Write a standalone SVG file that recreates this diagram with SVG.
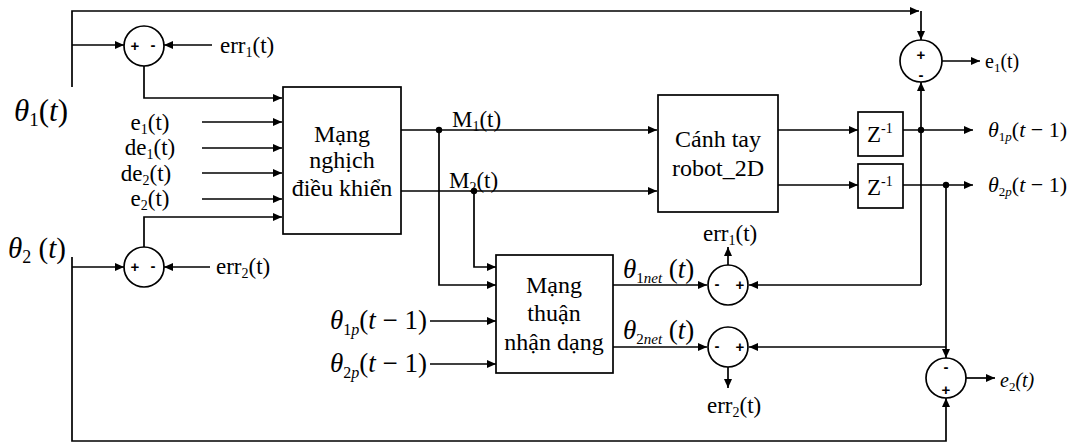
<svg xmlns="http://www.w3.org/2000/svg" width="1082" height="443" viewBox="0 0 1082 443" font-family="'Liberation Serif', 'Times New Roman', serif">
<defs>
<marker id="ah" markerUnits="userSpaceOnUse" markerWidth="9" markerHeight="8" refX="9" refY="4" orient="auto">
<path d="M0,0 L9,4 L0,8 z" fill="#000"/>
</marker>
<style>
text{font-family:'Liberation Serif','Times New Roman',serif;fill:#000}
.lab{font-size:23px}
.big{font-size:24px}
.sm{font-size:20px}
.it{font-style:italic}
.sg{font-family:'Liberation Sans',Arial,sans-serif;font-size:15px;font-weight:bold}
.box{fill:#fff;stroke:#000;stroke-width:1.7}
.sum{fill:#fff;stroke:#000;stroke-width:1.7}
.ln{fill:none;stroke:#000;stroke-width:1.7;marker-end:url(#ah)}
</style>
</defs>
<rect width="1082" height="443" fill="#fff"/>
<g id="connectors">
<path class="ln" d="M72,87 V11 H919"/>
<path class="ln" d="M921,11 V40"/>
<path class="ln" d="M72,45 H124"/>
<path class="ln" d="M212,45 H164"/>
<path class="ln" d="M144,66 V98 H282"/>
<path class="ln" d="M202,122 H282"/>
<path class="ln" d="M202,148 H282"/>
<path class="ln" d="M202,173 H282"/>
<path class="ln" d="M202,199 H282"/>
<path class="ln" d="M144,247 V217 H282"/>
<path class="ln" d="M72,257 V441 H946 V398"/>
<path class="ln" d="M72,267 H124"/>
<path class="ln" d="M210,267 H164"/>
<path class="ln" d="M401,130 H657"/>
<path class="ln" d="M401,191 H657"/>
<path class="ln" d="M439,130 V285 H496"/>
<path class="ln" d="M474,191 V267 H496"/>
<path class="ln" d="M430,321 H496"/>
<path class="ln" d="M430,364 H496"/>
<path class="ln" d="M613,285 H707"/>
<path class="ln" d="M613,347 H707"/>
<path class="ln" d="M728,265 V247"/>
<path class="ln" d="M728,367 V388"/>
<path class="ln" d="M778,130 H858"/>
<path class="ln" d="M778,185 H858"/>
<path class="ln" d="M903,130 H973"/>
<path class="ln" d="M903,185 H973"/>
<path class="ln" d="M921,285 V82"/>
<path class="ln" d="M921,285 H749"/>
<path class="ln" d="M946,185 V358"/>
<path class="ln" d="M946,347 H749"/>
<path class="ln" d="M942,61 H980"/>
<path class="ln" d="M966,378 H995"/>
<circle cx="439" cy="130" r="3.2"/>
<circle cx="474" cy="191" r="3.2"/>
<circle cx="921" cy="130" r="3.2"/>
<circle cx="946" cy="185" r="3.2"/>
</g>
<g id="inputs">
<text x="14" y="121" style="font-size:31px"><tspan class="it">θ</tspan><tspan dy="5" style="font-size:19px">1</tspan><tspan dy="-5">(</tspan><tspan class="it">t</tspan>)</text>
<text x="8" y="258" style="font-size:29px"><tspan class="it">θ</tspan><tspan dy="5" style="font-size:18px">2</tspan><tspan dy="-5"> (</tspan><tspan class="it">t</tspan>)</text>
<text class="lab" x="150" y="130" text-anchor="middle">e<tspan dy="4" style="font-size:14px">1</tspan><tspan dy="-4">(t)</tspan></text>
<text class="lab" x="150" y="155" text-anchor="middle">de<tspan dy="4" style="font-size:14px">1</tspan><tspan dy="-4">(t)</tspan></text>
<text class="lab" x="146" y="181" text-anchor="middle">de<tspan dy="4" style="font-size:14px">2</tspan><tspan dy="-4">(t)</tspan></text>
<text class="lab" x="150" y="206" text-anchor="middle">e<tspan dy="4" style="font-size:14px">2</tspan><tspan dy="-4">(t)</tspan></text>
<text class="lab" x="220" y="53">err<tspan dy="4" style="font-size:14px">1</tspan><tspan dy="-4">(t)</tspan></text>
<text class="lab" x="216" y="274">err<tspan dy="4" style="font-size:14px">2</tspan><tspan dy="-4">(t)</tspan></text>
<text x="330" y="329" style="font-size:27px"><tspan class="it">θ</tspan><tspan dy="6" style="font-size:16px">1</tspan><tspan class="it" style="font-size:16px">p</tspan><tspan dy="-6">(</tspan><tspan class="it">t</tspan> − 1)</text>
<text x="330" y="372" style="font-size:27px"><tspan class="it">θ</tspan><tspan dy="6" style="font-size:16px">2</tspan><tspan class="it" style="font-size:16px">p</tspan><tspan dy="-6">(</tspan><tspan class="it">t</tspan> − 1)</text>
</g>
<g id="sum_err1">
<circle class="sum" cx="144" cy="46" r="20"/>
<text class="sg" x="135" y="51" text-anchor="middle">+</text>
<text class="sg" x="153" y="50" text-anchor="middle">-</text>
</g>
<g id="sum_err2">
<circle class="sum" cx="144" cy="267" r="20"/>
<text class="sg" x="135" y="272" text-anchor="middle">+</text>
<text class="sg" x="153" y="271" text-anchor="middle">-</text>
</g>
<g id="inverse_net">
<rect class="box" x="283" y="87" width="118" height="147"/>
<text class="big" x="342" y="142" text-anchor="middle">Mạng</text>
<text class="big" x="342" y="168" text-anchor="middle">nghịch</text>
<text class="big" x="342" y="196" text-anchor="middle">điều khiển</text>
</g>
<g id="m_labels">
<text class="lab" x="452" y="127">M<tspan dy="4" style="font-size:14px">1</tspan><tspan dy="-4">(t)</tspan></text>
<text class="lab" x="449" y="188">M<tspan dy="4" style="font-size:14px">2</tspan><tspan dy="-4">(t)</tspan></text>
</g>
<g id="robot">
<rect class="box" x="658" y="95" width="120" height="117"/>
<text class="big" x="718" y="147" text-anchor="middle">Cánh tay</text>
<text class="big" x="718" y="176" text-anchor="middle">robot_2D</text>
</g>
<g id="delay1">
<rect class="box" x="858" y="112" width="45" height="44"/>
<text class="lab" x="867" y="142">Z<tspan dy="-9" style="font-size:14px">-1</tspan></text>
</g>
<g id="delay2">
<rect class="box" x="858" y="164" width="45" height="44"/>
<text class="lab" x="867" y="195">Z<tspan dy="-9" style="font-size:14px">-1</tspan></text>
</g>
<g id="forward_net">
<rect class="box" x="496" y="255" width="117" height="118"/>
<text class="big" x="554" y="293" text-anchor="middle">Mạng</text>
<text class="big" x="554" y="321" text-anchor="middle">thuận</text>
<text class="big" x="554" y="350" text-anchor="middle">nhận dạng</text>
</g>
<g id="net_labels">
<text x="623" y="278" style="font-size:27px"><tspan class="it">θ</tspan><tspan dy="5" style="font-size:15px">1</tspan><tspan class="it" style="font-size:15px">net</tspan><tspan dy="-5"> (</tspan><tspan class="it">t</tspan>)</text>
<text x="623" y="339" style="font-size:27px"><tspan class="it">θ</tspan><tspan dy="5" style="font-size:15px">2</tspan><tspan class="it" style="font-size:15px">net</tspan><tspan dy="-5"> (</tspan><tspan class="it">t</tspan>)</text>
</g>
<g id="sum_net1">
<circle class="sum" cx="728" cy="285" r="20"/>
<text class="sg" x="717" y="289" text-anchor="middle">-</text>
<text class="sg" x="740" y="290" text-anchor="middle">+</text>
<text class="lab" x="703" y="241">err<tspan dy="4" style="font-size:14px">1</tspan><tspan dy="-4">(t)</tspan></text>
</g>
<g id="sum_net2">
<circle class="sum" cx="728" cy="347" r="20"/>
<text class="sg" x="717" y="351" text-anchor="middle">-</text>
<text class="sg" x="740" y="352" text-anchor="middle">+</text>
<text class="lab" x="707" y="413">err<tspan dy="4" style="font-size:14px">2</tspan><tspan dy="-4">(t)</tspan></text>
</g>
<g id="sum_e1">
<circle class="sum" cx="921" cy="61" r="21"/>
<text class="sg" x="921" y="60" text-anchor="middle">+</text>
<text class="sg" x="921" y="80" text-anchor="middle">-</text>
<text class="sm" x="985" y="68">e<tspan dy="4" style="font-size:13px">1</tspan><tspan dy="-4">(t)</tspan></text>
</g>
<g id="sum_e2">
<circle class="sum" cx="946" cy="378" r="20"/>
<text class="sg" x="946" y="372" text-anchor="middle">-</text>
<text class="sg" x="946" y="395" text-anchor="middle">+</text>
<text class="sm it" x="1000" y="387">e<tspan dy="4" style="font-size:13px;font-style:normal">2</tspan><tspan dy="-4">(</tspan>t)</text>
</g>
<g id="outputs">
<text x="988" y="137" style="font-size:22px"><tspan class="it">θ</tspan><tspan dy="4" style="font-size:13px">1</tspan><tspan class="it" style="font-size:13px">p</tspan><tspan dy="-4">(</tspan><tspan class="it">t</tspan> − 1)</text>
<text x="988" y="192" style="font-size:22px"><tspan class="it">θ</tspan><tspan dy="4" style="font-size:13px">2</tspan><tspan class="it" style="font-size:13px">p</tspan><tspan dy="-4">(</tspan><tspan class="it">t</tspan> − 1)</text>
</g>
</svg>
